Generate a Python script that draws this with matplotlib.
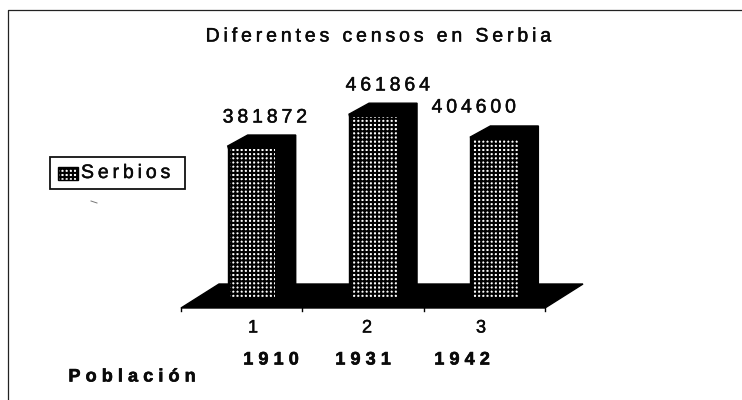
import matplotlib
matplotlib.use('Agg')
import matplotlib.pyplot as plt
import matplotlib.patheffects as pe
from matplotlib.patches import Polygon, Rectangle

# values
series_name = 'Serbios'
values = [381872, 461864, 404600]
categories = ['1', '2', '3']
years = ['1910', '1931', '1942']

plt.rcParams['font.family'] = ['Liberation Sans', 'DejaVu Sans']
plt.rcParams['hatch.linewidth'] = 1.5

ink = '#0a0a0a'
# scan makes the letters a bit fat
fat = [pe.withStroke(linewidth=0.35, foreground=ink)]
fatter = [pe.withStroke(linewidth=0.45, foreground=ink)]


def spaced(s, gap='\u2009'):
    # the scan has wide letter spacing
    return gap.join(s)


fig = plt.figure(figsize=(7.42, 4.0), dpi=100)

# page axes in pixels, for frame and loose text
page = fig.add_axes([0, 0, 1, 1])
page.set_xlim(0, 742)
page.set_ylim(400, 0)
page.axis('off')
page.plot([7.5, 7.5, 742], [400, 9.5, 9.5], color='#222222', lw=0.9)

# plot axes: x in categories, y in population
x0, x1, y_base, y_top = 181, 545, 298, 100
ax = fig.add_axes([x0 / 742, 1 - y_base / 400, (x1 - x0) / 742, (y_base - y_top) / 400])
ax.set_xlim(0, 3)
ax.set_ylim(0, 198 / 3.98e-4)
ax.axis('off')
ax.patch.set_alpha(0)

# depth of the 3d effect in data units
ymax = ax.get_ylim()[1]
dx = 20 / (x1 - x0) * 3
dy = 11 / (y_base - y_top) * ymax
floor_dx = 38 / (x1 - x0) * 3
floor_front = -10 / (y_base - y_top) * ymax
floor_back = 14 / (y_base - y_top) * ymax

ax.add_patch(Polygon([(0, floor_front), (3, floor_front), (3 + floor_dx, floor_back),
                      (floor_dx, floor_back)], closed=True, fc='black', ec='black',
                     clip_on=False))
# little ticks under the floor
for i in range(4):
    ax.plot([i, i], [floor_front, floor_front * 1.3], color='black', lw=1.0, clip_on=False)

width = 48 / (x1 - x0) * 3
for i, v in enumerate(values):
    left = i + 0.385
    # top and side
    ax.add_patch(Polygon([(left, v), (left + dx, v + dy), (left + width + dx, v + dy),
                          (left + width + dx, 0), (left + width, 0)], closed=True,
                         fc='black', ec='black', clip_on=False))
    ax.add_patch(Rectangle((left, 0), width, v, fc='black', ec='black', lw=1.0, clip_on=False))
    ax.add_patch(Rectangle((left + 0.02, 0), width - 0.024, v - dy * 0.3, fc='white',
                           ec='black', hatch='++++', lw=0, clip_on=False))

# labels
lab_x = [265, 388, 474]
lab_y = [118, 86, 108]
for v, x, y in zip(values, lab_x, lab_y):
    page.text(x, y, spaced(str(v)), fontsize=14, ha='center', va='center', color=ink,
              path_effects=fat)

page.text(379, 37, spaced('Diferentes censos en Serbia'), fontsize=14, ha='center',
          va='center', color=ink, path_effects=fat)

for c, x in zip(categories, [253, 367, 481]):
    page.text(x, 328, c, fontsize=13, ha='center', va='center', color=ink, path_effects=fat)
for y_lab, x in zip(years, [271, 363, 462]):
    page.text(x, 360, spaced(y_lab, '\u2009\u200a'), fontsize=13, fontweight='bold',
              ha='center', va='center', color=ink, path_effects=fatter)
page.text(132, 377, spaced('Población', '\u2009\u200a'), fontsize=13, fontweight='bold',
          ha='center', va='center', color=ink, path_effects=fatter)

# legend box
page.add_patch(Rectangle((50, 157), 135, 32, fc='white', ec='#111111', lw=1.3))
page.add_patch(Rectangle((58, 167), 20, 13, fc='white', ec='black', hatch='++++', lw=1.0))
page.text(81, 173.5, spaced(series_name), fontsize=14, ha='left', va='center', color=ink,
          path_effects=fat)
# speck under the legend
page.plot([91, 97], [201, 203], color='#777777', lw=0.7)

fig.savefig('out.png', dpi=100)
